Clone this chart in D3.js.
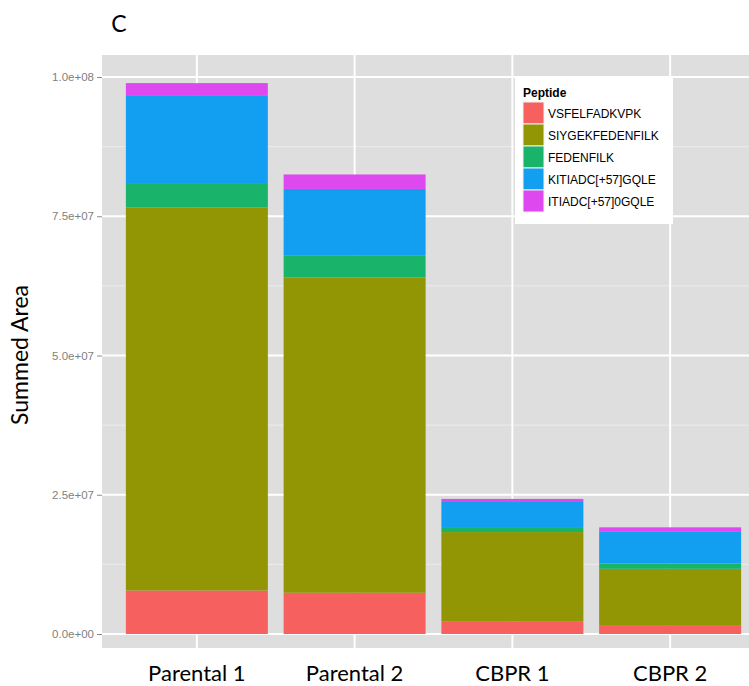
<!DOCTYPE html>
<html>
<head>
<meta charset="utf-8">
<script src="https://cdn.jsdelivr.net/npm/d3@7"></script>
<style>
  body { margin: 0; background: #fff; }
  svg { display: block; }
</style>
</head>
<body>
<div id="chart"></div>
<script>
const samples = ["Parental 1", "Parental 2", "CBPR 1", "CBPR 2"];
const peptides = ["VSFELFADKVPK", "SIYGEKFEDENFILK", "FEDENFILK", "KITIADC[+57]GQLE", "ITIADC[+57]0GQLE"];
const vsfelfadkvpk = [7.8e6, 7.4e6, 2.2e6, 1.6e6];
const siygekfedenfilk = [6.88e7, 5.66e7, 1.61e7, 1.01e7];
const fedenfilk = [4.2e6, 4.0e6, 0.9e6, 0.95e6];
const kitiadc = [1.58e7, 1.19e7, 4.5e6, 5.8e6];
const itiadc = [2.3e6, 2.6e6, 0.55e6, 0.7e6];
const yTicks = [0, 2.5e7, 5e7, 7.5e7, 1e8];

const colors = ["#f6605f", "#929504", "#19b46a", "#129ff2", "#dd49ee"];
const series_values = [vsfelfadkvpk, siygekfedenfilk, fedenfilk, kitiadc, itiadc];

const width = 749, height = 686;
const panelLeft = 102, panelRight = 749, panelTop = 55, panelBottom = 648;

const rows = samples.map((s, i) => {
  const r = { sample: s };
  peptides.forEach((p, j) => (r[p] = series_values[j][i]));
  return r;
});
const stacked = d3.stack().keys(peptides)(rows);

const svg = d3.select("#chart").append("svg").attr("width", width).attr("height", height);

const x = d3.scaleBand().domain(samples).range([102.2, 764.8]).paddingInner(0.1).paddingOuter(0.15);
const y = d3.scaleLinear().domain([0, 1e8]).range([634, 77]);

const fmt = (v) => {
  const s = d3.format(".1e")(v);
  return s.replace(/e([+-])(\d)$/, "e$10$2");
};

// panel
svg.append("rect").attr("x", panelLeft).attr("y", panelTop)
  .attr("width", panelRight - panelLeft).attr("height", panelBottom - panelTop).attr("fill", "#dedede");

const minor = [];
for (let i = 0; i < yTicks.length - 1; i++) minor.push((yTicks[i] + yTicks[i + 1]) / 2);
svg.append("g").selectAll("line").data(minor).enter().append("line")
  .attr("x1", panelLeft).attr("x2", panelRight)
  .attr("y1", (d) => y(d)).attr("y2", (d) => y(d))
  .attr("stroke", "#ececec").attr("stroke-width", 1);
svg.append("g").selectAll("line").data(yTicks).enter().append("line")
  .attr("x1", panelLeft).attr("x2", panelRight)
  .attr("y1", (d) => y(d)).attr("y2", (d) => y(d))
  .attr("stroke", "#ffffff").attr("stroke-width", 2);
svg.append("g").selectAll("line").data(samples).enter().append("line")
  .attr("x1", (d) => x(d) + x.bandwidth() / 2).attr("x2", (d) => x(d) + x.bandwidth() / 2)
  .attr("y1", panelTop).attr("y2", panelBottom)
  .attr("stroke", "#ffffff").attr("stroke-width", 2);

// bars
svg.append("g").selectAll("g").data(stacked).enter().append("g")
  .attr("fill", (d, i) => colors[i])
  .selectAll("rect").data((d) => d).enter().append("rect")
  .attr("x", (d) => x(d.data.sample))
  .attr("width", x.bandwidth())
  .attr("y", (d) => y(d[1]))
  .attr("height", (d) => y(d[0]) - y(d[1]));

// y axis
const yAxis = svg.append("g").attr("transform", `translate(${panelLeft},0)`)
  .call(d3.axisLeft(y).tickValues(yTicks).tickFormat(fmt).tickSize(5).tickPadding(3));
yAxis.select(".domain").remove();
yAxis.selectAll("line").attr("stroke", "#8a8a8a");
yAxis.selectAll("text").attr("fill", "#7f7f7f")
  .style("font-family", "Liberation Sans, Arial, sans-serif").style("font-size", "11.5px");

// x labels
svg.append("g").selectAll("text").data(samples).enter().append("text")
  .attr("x", (d) => x(d) + x.bandwidth() / 2)
  .attr("y", 681)
  .attr("text-anchor", "middle")
  .style("font-family", "Lato, sans-serif").style("font-size", "22px")
  .attr("fill", "#000")
  .text((d) => d);

// y title
svg.append("text")
  .attr("transform", "translate(28,355) rotate(-90)")
  .attr("text-anchor", "middle")
  .style("font-family", "Lato, sans-serif").style("font-size", "23px")
  .text("Summed Area");

// panel letter
svg.append("text").attr("x", 119).attr("y", 32).attr("text-anchor", "middle")
  .style("font-family", "Lato, sans-serif").style("font-size", "23px")
  .text("C");

// legend
const legend = svg.append("g");
legend.append("rect").attr("x", 515).attr("y", 77).attr("width", 158).attr("height", 147).attr("fill", "#fff");
legend.append("text").attr("x", 523).attr("y", 97)
  .style("font-family", "Liberation Sans, Arial, sans-serif").style("font-size", "12px").style("font-weight", "bold")
  .text("Peptide");
const item = legend.selectAll(".item").data(peptides).enter().append("g")
  .attr("transform", (d, i) => `translate(523,${102 + i * 22})`);
item.append("rect").attr("width", 21).attr("height", 22).attr("fill", (d, i) => colors[i])
  .attr("stroke", "#f2f2f2").attr("stroke-width", 1);
item.append("text").attr("x", 25).attr("y", 15.5)
  .style("font-family", "Liberation Sans, Arial, sans-serif").style("font-size", "12px")
  .text((d) => d);
</script>
</body>
</html>
